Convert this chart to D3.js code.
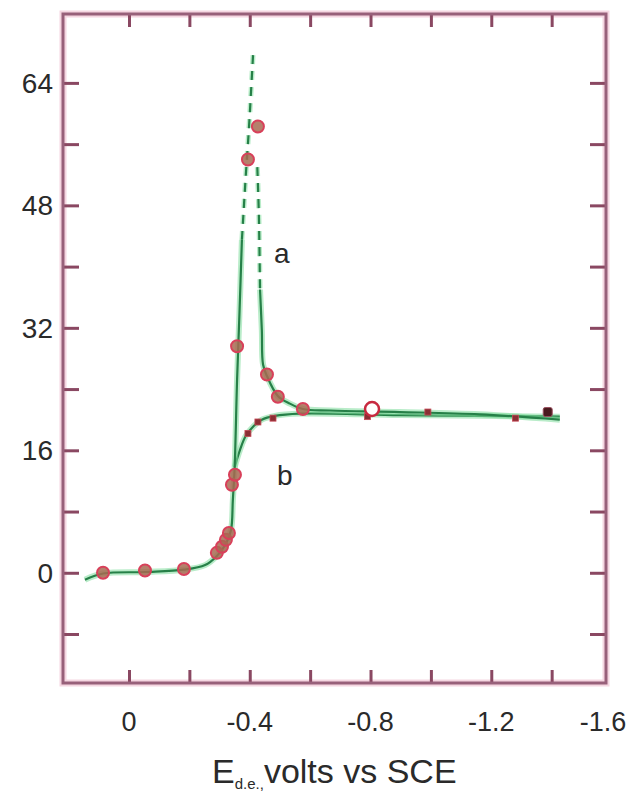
<!DOCTYPE html>
<html>
<head>
<meta charset="utf-8">
<script src="https://cdn.jsdelivr.net/npm/d3@7"></script>
<style>
  html, body { margin: 0; padding: 0; background: #ffffff; }
  svg { display: block; }
  text { font-family: "Liberation Sans", Arial, sans-serif; fill: #2a2a2a; }
</style>
</head>
<body>
<svg id="chart" width="633" height="794"></svg>
<script>
// ---------- data ----------
const xTicks  = [0, -0.2, -0.4, -0.6, -0.8, -1.0, -1.2, -1.4];
const xLabels = [0, -0.4, -0.8, -1.2, -1.6];
const yTicks  = [-8, 0, 8, 16, 24, 32, 40, 48, 56, 64];
const yLabels = [0, 16, 32, 48, 64];

// curve a: measured points (circles)
const aPtsV = [0.086, -0.053, -0.182, -0.291, -0.308, -0.321, -0.331, -0.341, -0.351, -0.358, -0.394, -0.427, -0.457, -0.493, -0.576];
const aPtsY = [0.0, 0.3, 0.5, 2.6, 3.4, 4.3, 5.2, 11.5, 12.8, 29.6, 54.0, 58.3, 25.9, 23.0, 21.4];
// curve a: hollow circle
const aOpenV = [-0.805];
const aOpenY = [21.4];
// curve b: measured points (small dots)
const bPtsV = [-0.394, -0.427, -0.477, -0.79, -0.99, -1.28];
const bPtsY = [18.2, 19.7, 20.2, 20.4, 21.0, 20.2];
const bBigV = [-1.387];
const bBigY = [21.0];

// fitted curve a, rising branch
const aRiseSolidV = [0.146, 0.086, -0.053, -0.182, -0.252, -0.291, -0.321, -0.338, -0.344, -0.350, -0.358, -0.366, -0.374];
const aRiseSolidY = [-0.9, -0.1, 0.1, 0.4, 1.0, 2.2, 3.8, 5.6, 9.5, 13.8, 25.2, 34.0, 43.5];
const aRiseDashV = [-0.374, -0.387, -0.397, -0.411];
const aRiseDashY = [43.5, 52.0, 57.9, 67.7];
// fitted curve a, falling branch
const aFallDashV = [-0.425, -0.430, -0.434];
const aFallDashY = [53.0, 47.0, 37.0];
const aFallSolidV = [-0.434, -0.440, -0.444, -0.457, -0.493, -0.533, -0.576, -0.666, -0.897, -1.162, -1.427];
const aFallSolidY = [37.0, 31.7, 27.2, 25.7, 23.1, 22.1, 21.4, 21.2, 21.0, 20.7, 20.0];
// fitted curve b
const bFitV = [-0.350, -0.368, -0.387, -0.414, -0.440, -0.483, -0.566, -0.897, -1.162, -1.427];
const bFitY = [13.8, 16.1, 17.9, 19.2, 20.0, 20.5, 20.8, 20.6, 20.5, 20.4];

// ---------- layout ----------
const svg = d3.select("#chart");
const frame = { left: 63, right: 606, top: 14, bottom: 683 };
const x = d3.scaleLinear().domain([0.2186, -1.58]).range([frame.left, frame.right]);
const y = d3.scaleLinear().domain([-14.4, 73]).range([frame.bottom, frame.top]);

const frameColor = "#98607a";
const tickColor = "#8a4862";

// faint pink halo around frame
svg.append("rect")
  .attr("x", frame.left).attr("y", frame.top)
  .attr("width", frame.right - frame.left).attr("height", frame.bottom - frame.top)
  .attr("fill", "none").attr("stroke", "#f5d6e1").attr("stroke-width", 7);

// axes (inner ticks)
function styleAxis(g) {
  g.select(".domain").remove();
  g.selectAll(".tick line").attr("stroke", tickColor).attr("stroke-width", 3);
  g.selectAll(".tick text").remove();
}
svg.append("g").attr("transform", `translate(0,${frame.bottom})`)
  .call(d3.axisBottom(x).tickValues(xTicks).tickSize(-13)).call(styleAxis);
svg.append("g").attr("transform", `translate(0,${frame.top})`)
  .call(d3.axisTop(x).tickValues(xTicks).tickSize(-13)).call(styleAxis);
svg.append("g").attr("transform", `translate(${frame.left},0)`)
  .call(d3.axisLeft(y).tickValues(yTicks).tickSize(-16)).call(styleAxis);
svg.append("g").attr("transform", `translate(${frame.right},0)`)
  .call(d3.axisRight(y).tickValues(yTicks).tickSize(-16)).call(styleAxis);

// frame
svg.append("rect")
  .attr("x", frame.left).attr("y", frame.top)
  .attr("width", frame.right - frame.left).attr("height", frame.bottom - frame.top)
  .attr("fill", "none").attr("stroke", frameColor).attr("stroke-width", 3);

// tick labels
svg.append("g").selectAll("text").data(xLabels).join("text")
  .attr("x", d => Math.min(x(d), 603)).attr("y", 731)
  .attr("text-anchor", "middle").attr("font-size", 27)
  .text(d => d === 0 ? "0" : "-" + Math.abs(d).toFixed(1));
svg.append("g").selectAll("text").data(yLabels).join("text")
  .attr("x", 53).attr("y", d => y(d)).attr("dy", "0.36em")
  .attr("text-anchor", "end").attr("font-size", 28)
  .text(d => d);

// axis title
const title = svg.append("text").attr("x", 212).attr("y", 783).attr("font-size", 34);
title.append("tspan").text("E");
title.append("tspan").attr("font-size", 15).attr("dy", 6).text("d.e.,");
title.append("tspan").attr("dy", -6).text("volts vs SCE");

// fitted lines
const lineX = d3.line().x(d => x(d[0])).y(d => y(d[1])).curve(d3.curveCatmullRom.alpha(0.5));
const zip = (a, b) => a.map((v, i) => [v, b[i]]);

function drawFit(pts, dashed, gen) {
  const g = svg.append("g");
  g.append("path").attr("d", gen(pts)).attr("fill", "none")
    .attr("stroke", "#7fdc9c").attr("stroke-opacity", 0.55).attr("stroke-width", dashed ? 5 : 6)
    .attr("stroke-dasharray", dashed ? "9,7" : null);
  g.append("path").attr("d", gen(pts)).attr("fill", "none")
    .attr("stroke", "#268048").attr("stroke-width", 2.2)
    .attr("stroke-dasharray", dashed ? "9,7" : null);
}
drawFit(zip(bFitV, bFitY), false, lineX);
drawFit(zip(aRiseSolidV, aRiseSolidY), false, lineX);
drawFit(zip(aRiseDashV, aRiseDashY), true, lineX);
drawFit(zip(aFallDashV, aFallDashY), true, lineX);
drawFit(zip(aFallSolidV, aFallSolidY), false, lineX);

// curve b dots
svg.append("g").selectAll("rect").data(zip(bPtsV, bPtsY)).join("rect")
  .attr("x", d => x(d[0]) - 3).attr("y", d => y(d[1]) - 3)
  .attr("width", 6).attr("height", 6)
  .attr("fill", "#8a2f34").attr("stroke", "#c84a58").attr("stroke-width", 0.8);
svg.append("g").selectAll("rect").data(zip(bBigV, bBigY)).join("rect")
  .attr("x", d => x(d[0]) - 4.5).attr("y", d => y(d[1]) - 4.5)
  .attr("width", 9).attr("height", 9).attr("rx", 2)
  .attr("fill", "#4a1a1e").attr("stroke", "#9a5060").attr("stroke-width", 1);

// curve a circles
svg.append("g").selectAll("circle").data(zip(aPtsV, aPtsY)).join("circle")
  .attr("cx", d => x(d[0])).attr("cy", d => y(d[1])).attr("r", 6)
  .attr("fill", "#a86a52").attr("fill-opacity", 0.85)
  .attr("stroke", "#d8405a").attr("stroke-width", 2);
svg.append("g").selectAll("circle").data(zip(aOpenV, aOpenY)).join("circle")
  .attr("cx", d => x(d[0])).attr("cy", d => y(d[1])).attr("r", 7)
  .attr("fill", "#ffffff").attr("stroke", "#c82a40").attr("stroke-width", 2.5);

// curve labels
svg.append("text").attr("x", x(-0.48)).attr("y", y(40.5)).attr("font-size", 28).attr("fill", "#333").text("a");
svg.append("text").attr("x", x(-0.49)).attr("y", y(11.5)).attr("font-size", 28).attr("fill", "#333").text("b");
</script>
</body>
</html>
